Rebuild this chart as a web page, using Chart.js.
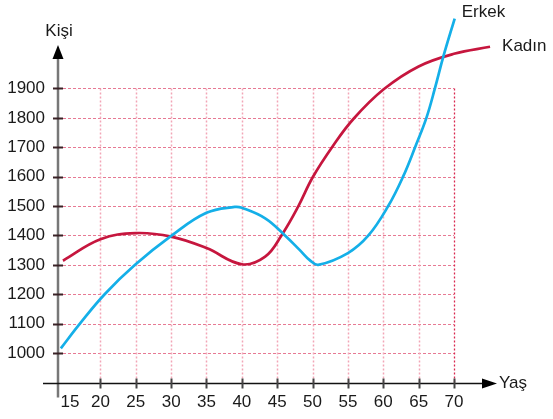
<!DOCTYPE html>
<html lang="tr">
<head>
<meta charset="UTF-8">
<title>Kişi - Yaş</title>
<style>
  html, body { margin: 0; padding: 0; background: #fff; }
  canvas { display: block; }
</style>
</head>
<body>
<canvas id="myChart" width="553" height="419"></canvas>
<script src="https://cdn.jsdelivr.net/npm/chart.js"></script>
<script>
// data
const seriesNames = ['Erkek', 'Kadın'];
const erkekYas  = [14.4, 17.1, 20.6, 24.9, 30.1, 35, 39, 40, 43.3, 46.1, 48.2, 49.6, 50.8, 55, 57.9, 60.7, 62.8, 64.5, 66.1, 67.3, 68.5, 70.1];
const erkekKisi = [1016, 1100, 1200, 1300, 1400, 1477, 1497, 1494, 1458, 1400, 1350, 1316, 1300, 1340, 1400, 1500, 1600, 1700, 1800, 1900, 2009, 2138];
const kadinYas  = [14.7, 20, 25, 30, 35, 40, 43.3, 45.6, 48, 50, 52.9, 55.8, 60.1, 65, 70, 75.1];
const kadinKisi = [1314, 1387, 1408, 1396, 1357, 1302, 1328, 1400, 1500, 1597, 1705, 1797, 1898, 1975, 2018, 2042];

const xTickPos    = [15.7, 20, 25, 30, 35, 40, 45, 50, 55, 60, 65, 70];
const xTickLabels = ['15', '20', '25', '30', '35', '40', '45', '50', '55', '60', '65', '70'];
const yTicks      = [1000, 1100, 1200, 1300, 1400, 1500, 1600, 1700, 1800, 1900];
const xTitle = 'Yaş';
const yTitle = 'Kişi';

const FONT = 'Liberation Sans, Arial, sans-serif';

const axesPlugin = {
  id: 'axesPlugin',
  beforeDatasetsDraw(chart) {
    const { ctx, chartArea, scales: { x, y } } = chart;
    const left = chartArea.left, bottom = chartArea.bottom;
    const right70 = x.getPixelForValue(70);
    const top = y.getPixelForValue(1900);
    ctx.save();
    ctx.lineWidth = 1;
    // horizontal grid
    ctx.strokeStyle = '#e77a94';
    ctx.setLineDash([3, 2]);
    yTicks.forEach(v => {
      const py = Math.round(y.getPixelForValue(v)) + 0.5;
      ctx.beginPath(); ctx.moveTo(left, py); ctx.lineTo(right70, py); ctx.stroke();
    });
    // vertical grid
    ctx.setLineDash([2, 2]);
    xTickPos.slice(1).forEach((v, i, arr) => {
      const px = Math.round(x.getPixelForValue(v)) + 0.5;
      ctx.strokeStyle = i === arr.length - 1 ? '#d9284f' : '#f2a6b7';
      ctx.lineWidth = i === arr.length - 1 ? 1.3 : 1.5;
      ctx.beginPath(); ctx.moveTo(px, top); ctx.lineTo(px, bottom); ctx.stroke();
    });
    ctx.restore();
  },
  afterDatasetsDraw(chart) {
    const { ctx, chartArea, scales: { x, y } } = chart;
    const left = chartArea.left, bottom = Math.round(chartArea.bottom) + 0.5;
    ctx.save();
    ctx.setLineDash([]);
    // y axis
    ctx.strokeStyle = '#777';
    ctx.lineWidth = 2.5;
    ctx.beginPath(); ctx.moveTo(left, bottom + 14); ctx.lineTo(left, chartArea.top + 40); ctx.stroke();
    ctx.fillStyle = '#000';
    ctx.beginPath();
    ctx.moveTo(left, chartArea.top + 30);
    ctx.lineTo(left - 5.5, chartArea.top + 44);
    ctx.lineTo(left + 5.5, chartArea.top + 44);
    ctx.closePath(); ctx.fill();
    // y tick marks
    ctx.strokeStyle = '#3a2226';
    ctx.lineWidth = 2;
    yTicks.forEach(v => {
      const py = Math.round(y.getPixelForValue(v)) + 0.5;
      ctx.beginPath(); ctx.moveTo(left - 5, py); ctx.lineTo(left + 5, py); ctx.stroke();
    });
    // x axis
    ctx.strokeStyle = '#111';
    ctx.lineWidth = 1.5;
    ctx.beginPath(); ctx.moveTo(left - 15, bottom); ctx.lineTo(chartArea.right - 10, bottom); ctx.stroke();
    ctx.beginPath();
    ctx.moveTo(chartArea.right + 2, bottom);
    ctx.lineTo(chartArea.right - 13, bottom - 5);
    ctx.lineTo(chartArea.right - 13, bottom + 5);
    ctx.closePath(); ctx.fill();
    // x tick marks
    ctx.strokeStyle = '#444';
    ctx.lineWidth = 2;
    xTickPos.slice(1).forEach(v => {
      const px = Math.round(x.getPixelForValue(v)) + 0.5;
      ctx.beginPath(); ctx.moveTo(px, bottom - 5); ctx.lineTo(px, bottom + 5); ctx.stroke();
    });
    // titles and series names
    ctx.fillStyle = '#1a1a1a';
    ctx.font = '17px ' + FONT;
    ctx.textBaseline = 'middle';
    ctx.textAlign = 'center';
    ctx.fillText(yTitle, left + 1, chartArea.top + 16);
    ctx.textAlign = 'left';
    ctx.fillText(xTitle, chartArea.right + 4, bottom);
    const eLast = erkekYas.length - 1, kLast = kadinYas.length - 1;
    ctx.fillText(seriesNames[0], x.getPixelForValue(erkekYas[eLast]) + 7, y.getPixelForValue(erkekKisi[eLast]) - 6);
    ctx.fillText(seriesNames[1], x.getPixelForValue(kadinYas[kLast]) + 12, y.getPixelForValue(kadinKisi[kLast]));
    ctx.restore();
  }
};

const tickFont = { family: FONT, size: 17 };

new Chart(document.getElementById('myChart'), {
  type: 'line',
  data: {
    datasets: [
      {
        label: seriesNames[0],
        data: erkekYas.map((a, i) => ({ x: a, y: erkekKisi[i] })),
        borderColor: '#14afe8',
        borderWidth: 2.7,
        pointRadius: 0,
        tension: 0.4,
        fill: false,
        clip: false
      },
      {
        label: seriesNames[1],
        data: kadinYas.map((a, i) => ({ x: a, y: kadinKisi[i] })),
        borderColor: '#c6163e',
        borderWidth: 2.7,
        pointRadius: 0,
        tension: 0.4,
        fill: false,
        clip: false
      }
    ]
  },
  options: {
    responsive: false,
    devicePixelRatio: 1,
    animation: false,
    layout: { padding: { top: 15, right: 58, bottom: 0, left: 0 } },
    plugins: { legend: { display: false }, tooltip: { enabled: false } },
    scales: {
      x: {
        type: 'linear',
        min: 14,
        max: 75.8,
        grid: { display: false, drawTicks: false },
        border: { display: false },
        afterBuildTicks: s => { s.ticks = xTickPos.map(v => ({ value: v })); },
        afterFit: s => { s.height = 36; s.paddingLeft = 0; s.paddingRight = 0; },
        ticks: {
          autoSkip: false,
          maxRotation: 0,
          padding: 9,
          color: '#1a1a1a',
          font: tickFont,
          callback: (v, i) => xTickLabels[i]
        }
      },
      y: {
        type: 'linear',
        min: 898,
        max: 2150,
        grid: { display: false, drawTicks: false },
        border: { display: false },
        afterBuildTicks: s => { s.ticks = yTicks.map(v => ({ value: v })); },
        afterFit: s => { s.width = 58; s.paddingTop = 0; s.paddingBottom = 0; },
        ticks: {
          autoSkip: false,
          padding: 13,
          color: '#1a1a1a',
          font: tickFont,
          callback: v => String(v)
        }
      }
    }
  },
  plugins: [axesPlugin]
});
</script>
</body>
</html>
